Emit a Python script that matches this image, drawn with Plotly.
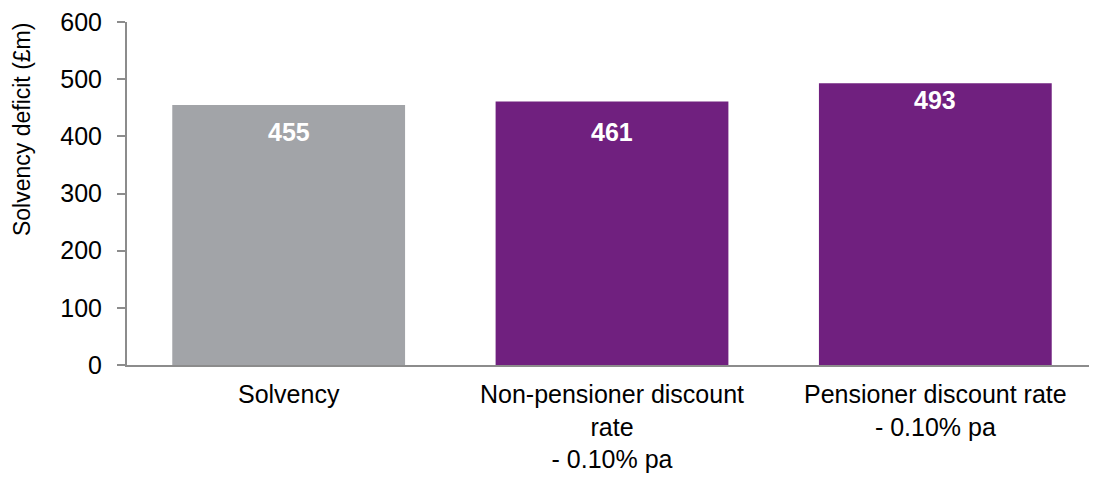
import plotly.graph_objects as go

categories = ["Solvency", "Non-pensioner discount<br>rate<br>- 0.10% pa", "Pensioner discount rate<br>- 0.10% pa"]
values = [455, 461, 493]
colors = ["#A2A4A8", "#70207F", "#70207F"]
y_ticks = [0, 100, 200, 300, 400, 500, 600]
y_title = "Solvency deficit (£m)"

FONT = "Liberation Sans, Arial, sans-serif"
label_shifts = [-11, -15, -1]  # distance of value labels below bar tops (px)

fig = go.Figure()
fig.add_trace(go.Bar(
    x=categories, y=values, marker=dict(color=colors, line=dict(width=0)),
    hoverinfo="skip",
))
for c, v, s in zip(categories, values, label_shifts):
    fig.add_annotation(x=c, y=v, text=f"<b>{v}</b>", showarrow=False,
                       yanchor="top", yshift=s,
                       font=dict(family=FONT, size=25, color="white"))

# y-axis title (placed higher than the axis centre, as in the reference)
fig.add_annotation(x=0, y=0.685, xref="paper", yref="paper", text=y_title,
                   textangle=-90, showarrow=False, xanchor="center", yanchor="middle",
                   xshift=-105, font=dict(family=FONT, size=23, color="black"))

fig.update_layout(
    width=1089, height=469,
    margin=dict(l=119, r=0, t=14, b=112, autoexpand=False),
    paper_bgcolor="white", plot_bgcolor="white",
    bargap=0.28, showlegend=False,
    font=dict(family=FONT, color="black"),
)
fig.update_xaxes(
    showline=True, linecolor="#8C8C8C", linewidth=2,
    ticks="", tickfont=dict(size=25, family=FONT, color="black"),
    showgrid=False, automargin=False, ticklabelstandoff=6,
)
fig.update_yaxes(
    range=[0, 600], tickvals=y_ticks,
    showline=True, linecolor="#8C8C8C", linewidth=2,
    ticks="outside", ticklen=8, tickcolor="#8C8C8C", tickwidth=2,
    tickfont=dict(size=25, family=FONT, color="black"),
    showgrid=False, zeroline=False, automargin=False, ticklabelstandoff=10,
    ticklabeloverflow="allow",
)
fig.write_html("out.html")
